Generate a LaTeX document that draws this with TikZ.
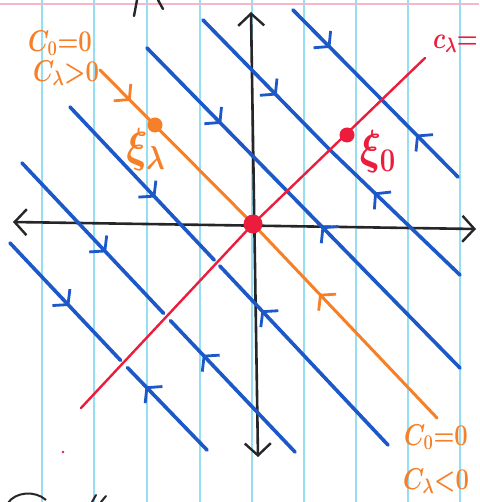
\documentclass[tikz,border=0pt]{standalone}
\usepackage{amsmath}
\usetikzlibrary{arrows.meta,decorations.markings}
\definecolor{penblue}{RGB}{28,88,200}
\definecolor{penorange}{RGB}{246,128,40}
\definecolor{penred}{RGB}{236,28,60}
\definecolor{penblack}{RGB}{38,38,42}
\definecolor{rulecyan}{RGB}{150,222,242}
\definecolor{rulepink}{RGB}{244,184,206}
\newcommand{\biglab}[3]{\scalebox{#1}[#2]{\fontsize{20.74}{22}\selectfont\boldmath$#3$}}
\tikzset{
  flowat/.style={postaction={decorate},decoration={markings,
     mark=at position #1 with {\arrow{Straight Barb[length=10pt,width=24pt,line width=2.8pt]}}}},
  oflowat/.style={postaction={decorate},decoration={markings,
     mark=at position #1 with {\arrow[penorange]{Straight Barb[length=10pt,width=24pt,line width=2.8pt]}}}},
  blueline/.style={draw=penblue,line width=3.6pt,line cap=round},
  orangeline/.style={draw=penorange,line width=3pt,line cap=round},
  redline/.style={draw=penred,line width=2.4pt,line cap=round},
  axisline/.style={draw=penblack,line width=2.6pt,line cap=round,
     {Straight Barb[length=12pt,width=26pt,line width=2.4pt]}-{Straight Barb[length=12pt,width=26pt,line width=2.4pt]}},
  ruleline/.style={draw=rulecyan,line width=1.4pt},
  orangelabel/.style={text=penorange,inner sep=0pt},
  redlabel/.style={text=penred,inner sep=0pt},
}
\begin{document}
\begin{tikzpicture}[x=1pt,y=-1pt]
\useasboundingbox (0,0) rectangle (479,502);
\fill[white] (0,0) rectangle (479,502);
% ruled paper
\foreach \xx in {42,94,147,200,252,304,356,408,460}
  \draw[ruleline] (\xx,0) -- (\xx,502);
\draw[rulepink,line width=1.6pt] (0,4) -- (479,4);
% stray pen marks at the edges
\draw[penblack,line width=2.4pt,line cap=round] (137,0) -- (134,16);
\draw[penblack,line width=2.4pt,line cap=round] (158,0) -- (163,9);
\draw[penblack,line width=2pt] (8,503) .. controls (15,492) and (35,490) .. (46,500);
\draw[penblack,line width=2pt,line cap=round] (92,502) -- (96,495);
\draw[penblack,line width=2pt,line cap=round] (101,502) -- (106,496);
\fill[penred] (63,452) circle (1.3);

% axes
\coordinate (O) at (253,224);
\coordinate (ytop) at (251,12);
\coordinate (ybot) at (258,457);
\coordinate (xleft) at (13,222);
\coordinate (xright) at (476,229);
\draw[axisline] (ybot) -- (ytop);
\draw[axisline] (xleft) -- (xright);

% blue flow lines, each drawn from its two ends toward the red line
% L1
\coordinate (a1) at (293,10);  \coordinate (c1) at (382,100); \coordinate (b1) at (458,177);
\draw[blueline,flowat=0.42] (a1) -- (c1);
\draw[blueline,flowat=0.55] (b1) -- (c1);
% L2
\coordinate (a2) at (203,20);  \coordinate (c2) at (330,150); \coordinate (b2) at (460,275);
\draw[blueline,flowat=0.58] (a2) -- (c2);
\draw[blueline,flowat=0.66] (b2) -- (c2);
% L3
\coordinate (a3) at (147,48);  \coordinate (c3) at (287,191); \coordinate (b3) at (460,368);
\draw[blueline,flowat=0.53] (a3) -- (c3);
\draw[blueline,flowat=0.8] (b3) -- (c3);
% L4
\coordinate (a4) at (70,107);  \coordinate (c4) at (217,263); \coordinate (b4) at (388,445);
\draw[blueline,flowat=0.58,shorten >=4pt] (a4) -- (c4);
\draw[blueline,flowat=0.74,shorten >=4pt] (b4) -- (c4);
% L5
\coordinate (a5) at (22,163);  \coordinate (c5) at (167,317); \coordinate (b5) at (295,452);
\draw[blueline,flowat=0.58,shorten >=5pt] (a5) -- (c5);
\draw[blueline,flowat=0.72,shorten >=5pt] (b5) -- (c5);
% L6
\coordinate (a6) at (10,243);  \coordinate (c6) at (124,364); \coordinate (b6) at (207,450);
\draw[blueline,flowat=0.52,shorten >=5pt] (a6) -- (c6);
\draw[blueline,flowat=0.74,shorten >=5pt] (b6) -- (c6);

% red line c_lambda = 0
\coordinate (r1) at (81,408);
\coordinate (r2) at (425,58);
\draw[redline] (r1) -- (O) -- (r2);

% orange line c_0 = 0
\coordinate (oa) at (100,70);
\coordinate (ob) at (437,418);
\draw[orangeline,oflowat=0.2] (oa) -- (O);
\draw[orangeline,oflowat=0.64] (ob) -- (O);

% equilibria
\fill[penred] (O) circle (9.5);
\fill[penorange] (155,125) circle (7.5);
\fill[penred] (347,135) circle (7.5);

% labels
\node[orangelabel] (lab1) at (60,43) {\biglab{1.15}{1.45}{C_0{=}0}};
\node[orangelabel] (lab2) at (66,73) {\biglab{1.15}{1.45}{C_\lambda{>}0}};
\node[orangelabel] (xil) at (146,150) {\biglab{1.9}{2.3}{\xi_\lambda}};
\node[redlabel] (xi0) at (378,152) {\biglab{1.9}{2.3}{\xi_0}};
\node[redlabel,anchor=east] (lab3) at (478,44) {\biglab{1.15}{1.45}{c_\lambda{=}}};
\node[orangelabel] (lab4) at (436,437) {\biglab{1.15}{1.45}{C_0{=}0}};
\node[orangelabel] (lab5) at (436,481) {\biglab{1.15}{1.45}{C_\lambda{<}0}};
\end{tikzpicture}
\end{document}
